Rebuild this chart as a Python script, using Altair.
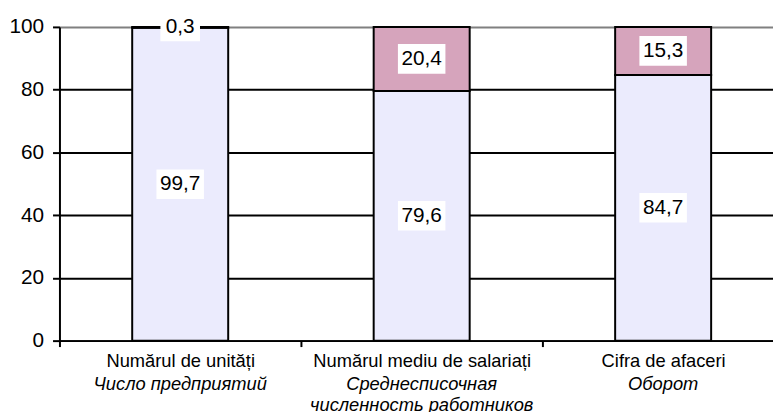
import altair as alt
import pandas as pd

# ---- data ----
cats_ro = ["Numărul de unități", "Numărul mediu de salariați", "Cifra de afaceri"]
cats_ru = [["Число предприятий"], ["Среднесписочная", "численность работников"], ["Оборот"]]
series = ["bottom", "top"]
bottom_vals = [99.7, 79.6, 84.7]
top_vals = [0.3, 20.4, 15.3]
y_ticks = [0, 20, 40, 60, 80, 100]

rows = []
for i, c in enumerate(cats_ro):
    rows.append({"cat": c, "series": series[0], "order": 0, "v": bottom_vals[i]})
    rows.append({"cat": c, "series": series[1], "order": 1, "v": top_vals[i]})
df = pd.DataFrame(rows)

FONT = "Liberation Sans"

# expression giving Russian label lines per category
ru_expr = ""
for ro, ru in zip(cats_ro, cats_ru):
    arr = "[" + ",".join("'" + s + "'" for s in ru) + "]"
    ru_expr += f"datum.value == '{ro}' ? {arr} : "
ru_expr += "''"

xscale = alt.Scale(domain=cats_ro, range=[0, 732], paddingInner=0, paddingOuter=0)
yscale = alt.Scale(domain=[0, 100], nice=False)

y_axis = alt.Axis(
    values=y_ticks, title=None, grid=True, orient="left",
    gridColor=alt.condition("datum.value == 100", alt.value("#808080"), alt.value("black")),
    gridWidth=2, domainColor="black", domainWidth=2, tickColor="black", tickWidth=2,
    tickSize=7, labelPadding=9, labelFontSize=21, labelColor="black", labelFont=FONT,
)

base = alt.Chart(df).transform_stack(
    stack="v", groupby=["cat"], as_=["y0", "y1"], sort=[alt.SortField("order")]
).transform_calculate(
    mid="(datum.y0 + datum.y1) / 2",
    lab="replace(format(datum.v, '.1f'), '.', ',')",
    n="length(replace(format(datum.v, '.1f'), '.', ','))",
)

bars = base.mark_bar(size=97, stroke="black", strokeWidth=2).encode(
    x=alt.X("cat:N", scale=xscale, axis=alt.Axis(
        title=None, orient="bottom", labelAngle=0, tickBand="extent", domainColor="black", domainWidth=2,
        tickColor="black", tickWidth=2, tickSize=6, labelPadding=5, labelFontSize=18.5,
        labelFont=FONT, labelColor="black", labelLimit=1000, labelOverlap=False, labelBound=False,
        grid=False)),
    y=alt.Y("y0:Q", scale=yscale, axis=y_axis),
    y2="y1:Q",
    color=alt.Color("series:N", scale=alt.Scale(domain=series, range=["#ebebfd", "#d6a4bc"]), legend=None),
)

box3 = "M-20,-14H20V14H-20Z"
box4 = "M-24,-15H24V15H-24Z"
boxes = base.mark_point(filled=True, opacity=1, strokeWidth=0, size=4, color="white").encode(
    x=alt.X("cat:N", scale=xscale, axis=alt.Axis(
        title=None, orient="bottom", labelAngle=0, domain=False, ticks=False, labelPadding=34,
        labelFontSize=18.5, labelFont=FONT, labelFontStyle="italic", labelColor="black",
        labelLimit=1000, labelOverlap=False, labelBound=False, labelLineHeight=22,
        labelExpr=ru_expr, grid=False)),
    y=alt.Y("mid:Q", scale=yscale, axis=y_axis),
    shape=alt.Shape("n:O", scale=alt.Scale(domain=[3, 4], range=[box3, box4]), legend=None),
)

texts = base.mark_text(fontSize=21, font=FONT, color="black", baseline="middle", align="center").encode(
    x=alt.X("cat:N", scale=xscale, axis=None),
    y=alt.Y("mid:Q", scale=yscale, axis=y_axis),
    text="lab:N",
)

chart = alt.layer(bars, boxes, texts).resolve_axis(x="independent").properties(
    width=721, height=317,
    autosize=alt.AutoSizeParams(type="none"),
    padding={"left": 52, "top": 17, "right": 0, "bottom": 70},
).configure_view(stroke=None).configure(font=FONT)

chart.save("out.html", embed_options={"renderer": "svg", "actions": False})
